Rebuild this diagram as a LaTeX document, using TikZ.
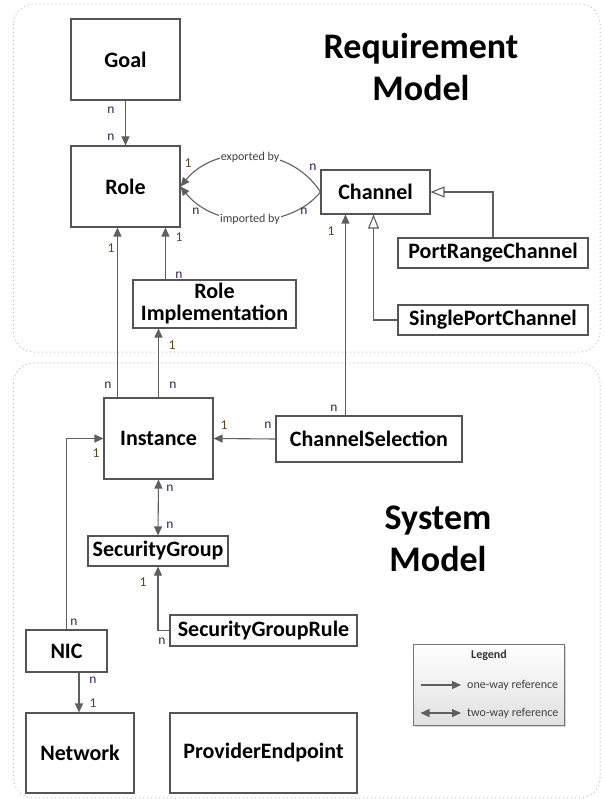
\documentclass[tikz,border=0pt]{standalone}
\usepackage{fontspec}
\setmainfont{Carlito}
\usetikzlibrary{arrows.meta,shadows}
\definecolor{boxline}{RGB}{85,85,85}
\definecolor{conn}{RGB}{95,95,95}
\definecolor{nlab}{RGB}{60,30,80}
\definecolor{onelab}{RGB}{90,70,20}
\definecolor{frame}{RGB}{190,190,190}
\tikzset{
  cls/.style={draw=boxline, line width=1.1pt, fill=white, inner sep=2pt, align=center,
    font=\fontsize{22}{23}\selectfont\bfseries},
  arr/.style={draw=conn, line width=1.1pt, -{Triangle[length=9pt,width=8pt]}},
  biarr/.style={draw=conn, line width=1.1pt, {Triangle[length=9pt,width=8pt]}-{Triangle[length=9pt,width=8pt]}},
  gen/.style={draw=conn, line width=1.1pt, -{Triangle[open,length=14pt,width=11pt,fill=white]}},
  nl/.style={text=nlab, font=\fontsize{13.5}{14}\selectfont, inner sep=0pt},
  ol/.style={text=onelab, font=\fontsize{13.5}{14}\selectfont, inner sep=0pt},
  curvelab/.style={fill=white, inner sep=1pt, text=black!75, font=\fontsize{12}{12}\selectfont},
  region/.style={draw=frame, line width=1pt, dash pattern=on 1pt off 3pt, rounded corners=20pt},
  title/.style={font=\fontsize{36}{42}\selectfont\bfseries, align=center, inner sep=0pt},
}
\begin{document}
\begin{tikzpicture}[x=1pt,y=-1pt]
\useasboundingbox (0,0) rectangle (603,799);
% regions
\draw[region] (13.5,4) rectangle (600,352);
\draw[region] (13.5,363) rectangle (600,798);
% titles
\node[title] (treq) at (421,67) {Requirement\\[0pt]Model};
\node[title] (tsys) at (438,539) {System\\[0pt]Model};
% classes
\node[cls, minimum width=109pt, minimum height=81pt] (goal) at (125.5,59.5) {Goal};
\node[cls, minimum width=109pt, minimum height=81pt] (role) at (125.5,186.5) {Role};
\node[cls, minimum width=109pt, minimum height=44pt] (channel) at (375.5,192) {Channel};
\node[cls, minimum width=190pt, minimum height=30pt] (prc) at (493,253) {PortRangeChannel};
\node[cls, minimum width=190pt, minimum height=30pt] (spc) at (493,320) {SinglePortChannel};
\node[cls, minimum width=163pt, minimum height=48pt, inner sep=0pt, font=\fontsize{22}{22}\selectfont\bfseries] (rimpl) at (214.5,304) {Role\\Implementation};
\node[cls, minimum width=109pt, minimum height=81pt] (inst) at (158.5,438.5) {Instance};
\node[cls, minimum width=186pt, minimum height=46pt] (cs) at (369,439) {ChannelSelection};
\node[cls, minimum width=140pt, minimum height=30pt] (sg) at (158,551) {SecurityGroup};
\node[cls, minimum width=187pt, minimum height=31pt] (sgr) at (263.5,630.5) {SecurityGroupRule};
\node[cls, minimum width=81pt, minimum height=42pt] (nic) at (66.5,651) {NIC};
\node[cls, minimum width=108pt, minimum height=80pt] (net) at (80,753) {Network};
\node[cls, minimum width=187pt, minimum height=80pt] (pe) at (263.5,753) {ProviderEndpoint};
% connectors
\draw[arr] (goal.south) -- (role.north);
\draw[arr] (channel.west) .. controls (290,144) and (215,144) .. (role.east);
\draw[arr] (channel.west) .. controls (290,230) and (215,230) .. (role.east);
\node[curvelab] (lexp) at (250,157) {exported by};
\node[curvelab] (limp) at (250,219) {imported by};
\draw[gen] (prc.north) |- (channel.east);
\draw[gen] (spc.west) -| ([xshift=-2pt]channel.south);
\draw[arr] ([xshift=33pt]rimpl.north west) -- ([xshift=33pt]rimpl.north west |- role.south);
\draw[arr] ([xshift=14pt]inst.north west) -- ([xshift=14pt]inst.north west |- role.south);
\draw[arr] (inst.north) -- (inst.north |- rimpl.south);
\draw[arr] ([xshift=70pt]cs.north west) -- ([xshift=70pt]cs.north west |- channel.south);
\draw[arr] (cs.west) -- (inst.east);
\draw[arr] (nic.north) |- (inst.west);
\draw[biarr] (inst.south) -- (sg.north);
\draw[arr] (sgr.west) -| (sg.south);
\draw[arr] ([xshift=12.5pt]nic.south) -- ([xshift=12.5pt]nic.south |- net.north);
% multiplicities
\node[nl] (m1) at (111,110) {n};
\node[nl] (m2) at (111,137) {n};
\node[ol] (m3) at (188,163) {1};
\node[nl] (m4) at (313,167) {n};
\node[nl] (m5) at (196,211) {n};
\node[nl] (m6) at (304,211) {n};
\node[ol] (m7) at (179,237) {1};
\node[nl] (m8) at (179,275) {n};
\node[ol] (m9) at (111,248) {1};
\node[nl] (m10) at (108,385) {n};
\node[ol] (m11) at (172,345) {1};
\node[nl] (m12) at (173,385) {n};
\node[ol] (m13) at (331,231) {1};
\node[nl] (m14) at (334,408) {n};
\node[ol] (m15) at (224,425) {1};
\node[nl] (m16) at (268,425) {n};
\node[ol] (m17) at (96,453) {1};
\node[nl] (m18) at (74,622) {n};
\node[nl] (m19) at (170,488) {n};
\node[nl] (m20) at (170,525) {n};
\node[ol] (m21) at (143,582) {1};
\node[nl] (m22) at (162,641) {n};
\node[nl] (m23) at (93,680) {n};
\node[ol] (m24) at (93,703) {1};
% legend
\node[draw=boxline!80, line width=0.8pt, minimum width=151pt, minimum height=81pt, top color=white, bottom color=black!12,
  drop shadow={shadow xshift=2pt, shadow yshift=-2pt, opacity=0.35}] (legend) at (488.5,684.5) {};
\node[font=\fontsize{12}{12}\selectfont\bfseries, text=black!80] (legt) at (489,655) {Legend};
\coordinate (l1a) at (420.5,685);
\coordinate (l1b) at (461,685);
\coordinate (l2a) at (420.5,713);
\coordinate (l2b) at (461,713);
\draw[arr] (l1a) -- (l1b);
\draw[biarr] (l2a) -- (l2b);
\node[anchor=west, inner sep=0pt, font=\fontsize{12}{12}\selectfont, text=black!75] (lt1) at (467,685) {one-way reference};
\node[anchor=west, inner sep=0pt, font=\fontsize{12}{12}\selectfont, text=black!75] (lt2) at (467,713) {two-way reference};
\end{tikzpicture}
\end{document}
